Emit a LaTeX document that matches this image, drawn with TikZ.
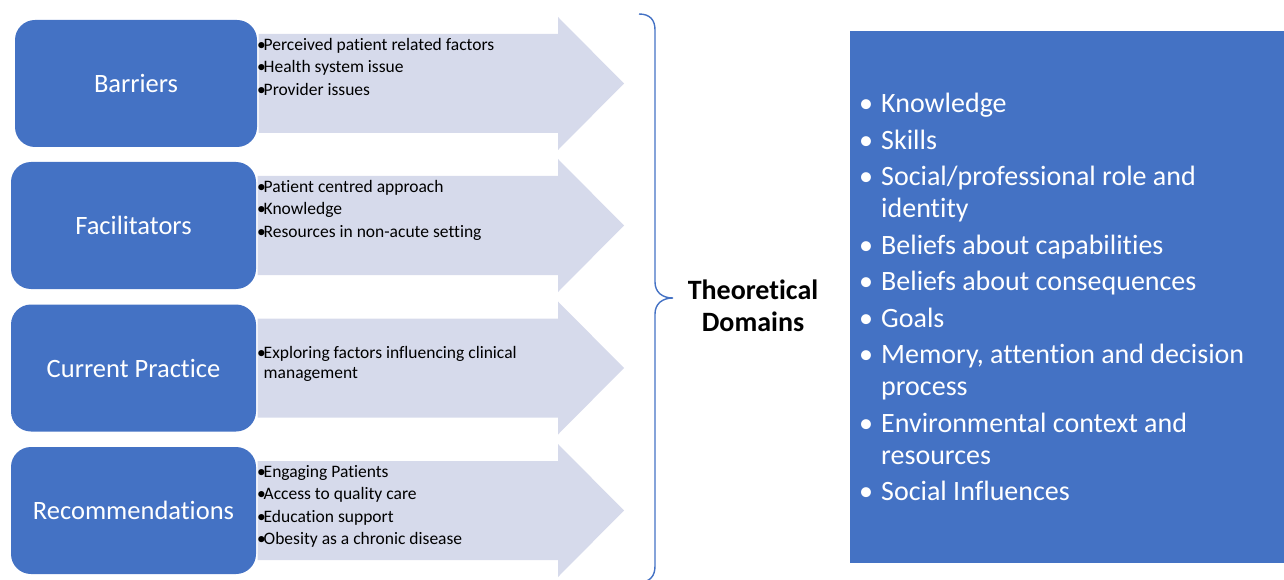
\documentclass[tikz,border=0pt]{standalone}
\usepackage{fontspec}
\setmainfont[Ligatures=NoCommon]{Carlito}
\usetikzlibrary{calc,backgrounds}

\definecolor{catblue}{RGB}{68,114,196}
\definecolor{arrowgrey}{RGB}{214,218,235}

\tikzset{
  catbox/.style={fill=catblue, rounded corners=20pt, minimum width=245pt,
    minimum height=127pt, inner sep=0pt, text=white,
    font=\fontsize{26.5}{30}\selectfont},
  arrowshape/.style={fill=arrowgrey},
  itemtext/.style={anchor=north west, inner sep=0pt, align=left,
    font=\fontsize{17.5}{20}\selectfont},
  domainbox/.style={fill=catblue, minimum width=434pt, minimum height=532pt,
    inner sep=0pt},
  domaintext/.style={anchor=north west, inner sep=0pt, align=left, text=white,
    font=\fontsize{28}{32}\selectfont},
  bracepen/.style={draw=catblue, line width=1.4pt},
}
\newcommand{\smallbul}{\makebox[6.5pt][l]{\textbullet}}
\newcommand{\bigbul}{\makebox[22pt][l]{\textbullet}}

\begin{document}
\begin{tikzpicture}[x=1pt,y=-1pt]
\useasboundingbox (0,0) rectangle (1284,580);

% x positions of the arrow heads
\coordinate (hb) at (558,0);
\coordinate (tip) at (624,0);

% category boxes
\node[catbox, minimum width=242pt] (bar) at (136,83.5) {Barriers};
\node[catbox] (fac) at (133.5,225.5) {Facilitators};
\node[catbox] (cur) at (133.5,368) {Current Practice};
\node[catbox] (rec) at (133.5,510.5) {Recommendations};

% block arrows leaving each box, behind the boxes
\begin{scope}[on background layer]
\foreach \n in {bar,fac,cur,rec}{
  \fill[arrowshape]
    ($(\n.east)+(1.5,-49.5)$) -- ($(\n.east -| hb)+(0,-49.5)$)
    -- ($(\n.east -| hb)+(0,-66.5)$) -- (\n.east -| tip)
    -- ($(\n.east -| hb)+(0,66.5)$) -- ($(\n.east -| hb)+(0,49.5)$)
    -- ($(\n.east)+(1.5,49.5)$) -- cycle;
}
\end{scope}

% arrow texts
\node[itemtext] (barT) at (257,38) {\smallbul Perceived patient related factors\\[2.5pt]
  \smallbul Health system issue\\[2.5pt]\smallbul Provider issues};
\node[itemtext] (facT) at (257,180) {\smallbul Patient centred approach\\[2.5pt]
  \smallbul Knowledge\\[2.5pt]\smallbul Resources in non-acute setting};
\node[itemtext] (curT) at (257,346) {\smallbul Exploring factors influencing clinical\\
  \makebox[6.5pt]{}management};
\node[itemtext] (recT) at (257,465) {\smallbul Engaging Patients\\[2.5pt]
  \smallbul Access to quality care\\[2.5pt]\smallbul Education support\\[2.5pt]
  \smallbul Obesity as a chronic disease};

% curly brace
\coordinate (b1) at (639,14);
\coordinate (b2) at (655,30);
\coordinate (b3) at (655,282);
\coordinate (b4) at (673,298);
\coordinate (b5) at (655,314);
\coordinate (b6) at (655,566);
\coordinate (b7) at (640,582);
\draw[bracepen] (b1) .. controls (650,14) and (655,20) .. (b2) -- (b3)
  .. controls (655,292) and (662,298) .. (b4)
  .. controls (662,298) and (655,304) .. (b5) -- (b6)
  .. controls (655,576) and (650,582) .. (b7);

\node[font=\bfseries\fontsize{28}{32}\selectfont, align=center, inner sep=0pt]
  (theo) at (753,306) {Theoretical\\Domains};

% domains panel
\node[domainbox] (dom) at (1067,297) {};
\node[domaintext] (domT) at (859,93) {%
  \bigbul Knowledge\\[4.5pt]
  \bigbul Skills\\[4.5pt]
  \bigbul Social/professional role and\\
  \makebox[22pt]{}identity\\[4.5pt]
  \bigbul Beliefs about capabilities\\[4.5pt]
  \bigbul Beliefs about consequences\\[4.5pt]
  \bigbul Goals\\[4.5pt]
  \bigbul Memory, attention and decision\\
  \makebox[22pt]{}process\\[4.5pt]
  \bigbul Environmental context and\\
  \makebox[22pt]{}resources\\[4.5pt]
  \bigbul Social Influences};
\end{tikzpicture}
\end{document}
